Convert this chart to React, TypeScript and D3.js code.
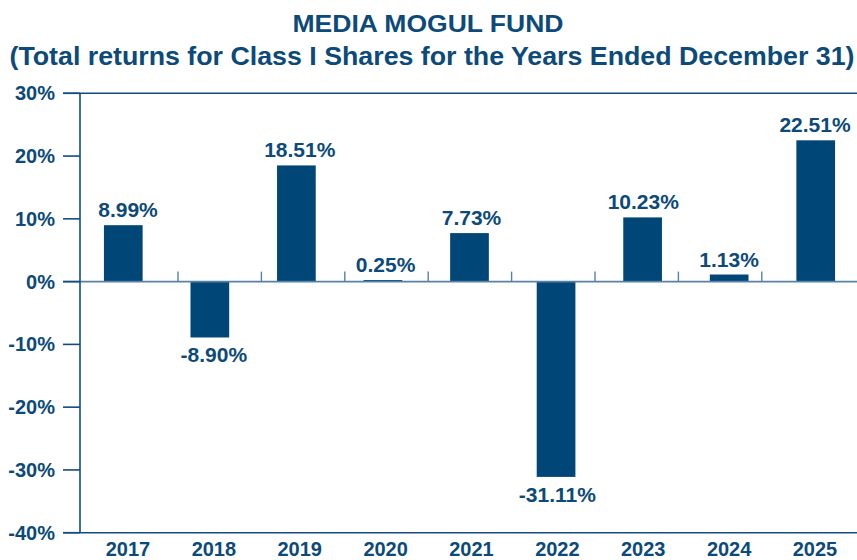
import React from "react";
import * as d3 from "d3";

const titleLines = [
  "MEDIA MOGUL FUND",
  "(Total returns for Class I Shares for the Years Ended December 31)",
];
const years = ["2017", "2018", "2019", "2020", "2021", "2022", "2023", "2024", "2025"];
const returns = [8.99, -8.9, 18.51, 0.25, 7.73, -31.11, 10.23, 1.13, 22.51];
const valueLabels = ["8.99%", "-8.90%", "18.51%", "0.25%", "7.73%", "-31.11%", "10.23%", "1.13%", "22.51%"];
const yTicks = [30, 20, 10, 0, -10, -20, -30, -40];

const W = 857;
const H = 560;
const TEXT = "#0c4a79";
const BAR = "#004677";
const AXIS = "#134c7c";
const ZERO = "#5782a8";
const FONT = "'Liberation Sans', Arial, Helvetica, sans-serif";

export default function App() {
  const y = d3.scaleLinear().domain([-40, 30]).range([532.7, 93.3]);
  const x = d3
    .scaleBand<string>()
    .domain(years)
    .range([80, 859])
    .paddingInner(0.553)
    .paddingOuter(0.2765);
  const labelX = d3.scalePoint<string>().domain(years).range([128, 815]);
  const tickBand = d3.scaleBand<string>().domain(years).range([94.6, 845.2]);
  const y0 = y(0);
  const axisLeft = 80;

  return (
    <svg
      width={W}
      height={H}
      style={{ position: "absolute", left: 0, top: 0, background: "#fff" }}
      fontFamily={FONT}
    >
      {/* titles */}
      <text x={428} y={32} textAnchor="middle" fontSize={24} fontWeight="bold" fill={TEXT}
        textLength={271} lengthAdjust="spacingAndGlyphs">
        {titleLines[0]}
      </text>
      <text x={432} y={65} textAnchor="middle" fontSize={25} fontWeight="bold" fill={TEXT}
        textLength={845} lengthAdjust="spacingAndGlyphs">
        {titleLines[1]}
      </text>

      {/* bars */}
      {years.map((yr, i) => {
        const v = returns[i];
        const top = y(Math.max(0, v));
        const bot = y(Math.min(0, v));
        return (
          <rect key={yr} x={x(yr)} y={top} width={x.bandwidth()} height={Math.max(1, bot - top)} fill={BAR} />
        );
      })}

      {/* zero line and category ticks */}
      <line x1={63} x2={W} y1={y0} y2={y0} stroke={ZERO} strokeWidth={1.6} />
      {years.slice(0, -1).map((yr) => {
        const tx = (tickBand(yr) as number) + tickBand.step();
        return <line key={"t" + yr} x1={tx} x2={tx} y1={y0 - 10} y2={y0} stroke={ZERO} strokeWidth={1.4} />;
      })}

      {/* top and bottom frame lines */}
      <line x1={63} x2={W} y1={y(30)} y2={y(30)} stroke={AXIS} strokeWidth={1.6} />
      <line x1={63} x2={W} y1={y(-40)} y2={y(-40)} stroke={AXIS} strokeWidth={1.6} />

      {/* y axis */}
      <line x1={axisLeft} x2={axisLeft} y1={y(30)} y2={y(-40)} stroke={AXIS} strokeWidth={1.6} />
      {yTicks.map((t) => (
        <g key={"y" + t}>
          <line x1={63} x2={axisLeft} y1={y(t)} y2={y(t)} stroke={AXIS} strokeWidth={1.6} />
          <text x={55} y={y(t) + 7} textAnchor="end" fontSize={20} fontWeight="bold" fill={TEXT}>
            {t + "%"}
          </text>
        </g>
      ))}

      {/* value labels */}
      {years.map((yr, i) => {
        const v = returns[i];
        const ly = v >= 0 ? y(v) - 8 : y(v) + 25;
        return (
          <text key={"v" + yr} x={labelX(yr)} y={ly} textAnchor="middle" fontSize={21} fontWeight="bold" fill={TEXT}>
            {valueLabels[i]}
          </text>
        );
      })}

      {/* year labels */}
      {years.map((yr) => (
        <text key={"x" + yr} x={labelX(yr)} y={556} textAnchor="middle" fontSize={20} fontWeight="bold" fill={TEXT}>
          {yr}
        </text>
      ))}
    </svg>
  );
}
